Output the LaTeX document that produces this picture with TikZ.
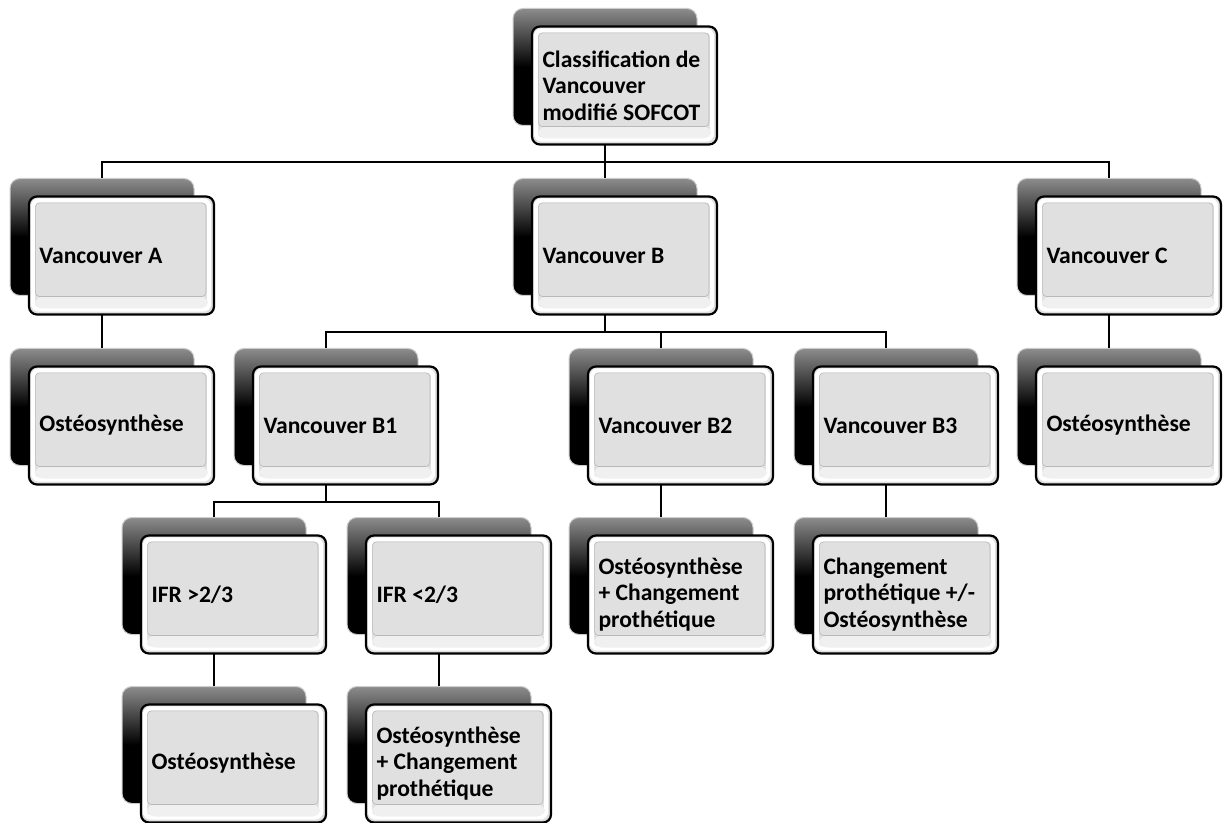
\documentclass[tikz,border=0pt]{standalone}
\usepackage{fontspec}
\setmainfont{Carlito}
\usetikzlibrary{calc,positioning}

\tikzset{
	backbox/.style={rounded corners=5pt, minimum width=92pt, minimum height=58.5pt, inner sep=0pt,
		top color=black!45, bottom color=black, middle color=black, draw=black!20, line width=0.5pt},
	frontbox/.style={rounded corners=4pt, minimum width=92.5pt, minimum height=59pt, inner ysep=0pt, inner xsep=5.25pt,
		text width=82pt, align=flush left, draw=black, line width=1.1pt, fill=black!12,
		font=\fontsize{11.8}{13.3}\selectfont\bfseries,
		path picture={
			\draw[white, line width=2.2pt, rounded corners=3pt]
				([xshift=2pt,yshift=-2pt]path picture bounding box.north west) rectangle
				([xshift=-2.5pt,yshift=2.5pt]path picture bounding box.south east);
			\fill[black!6]
				([xshift=3pt,yshift=9pt]path picture bounding box.south west) rectangle
				([xshift=-3pt,yshift=3pt]path picture bounding box.south east);
			\draw[black!28, line width=0.3pt, rounded corners=2pt]
				([xshift=3.2pt,yshift=-3.2pt]path picture bounding box.north west) rectangle
				([xshift=-4pt,yshift=9pt]path picture bounding box.south east);
		}},
	link/.style={draw=black, line width=0.9pt},
}

\begin{document}
\begin{tikzpicture}[x=0.5pt, y=-0.5pt]
	\fill[white] (0,0) rectangle (1225,823);
	\useasboundingbox (0,0) rectangle (1225,823);
	% dark boxes behind
	\foreach \n/\x/\y in {cls/605/67, va/102/237, vb/605/237, vc/1109/237,
		osa/102/407, vb1/326/407, vb2/661/407, vb3/886/407, osc/1109/407,
		ifr1/214/576, ifr2/439/576, osb2/661/576, osb3/886/576,
		osi1/214/745, osi2/439/745}
		\node[backbox] (b-\n) at (\x,\y) {};

	% connectors
	\draw[link] (b-cls.south) -- ++(0,36) -| (b-va.north);
	\draw[link] (b-cls.south) -- ++(0,36) -| (b-vc.north);
	\draw[link] (b-cls.south) -- (b-vb.north);
	\draw[link] (b-va.south) -- (b-osa.north);
	\draw[link] (b-vc.south) -- (b-osc.north);
	\draw[link] (b-vb.south) -- ++(0,36) -| (b-vb1.north);
	\draw[link] (b-vb.south) -- ++(0,36) -| (b-vb2.north);
	\draw[link] (b-vb.south) -- ++(0,36) -| (b-vb3.north);
	\draw[link] (b-vb1.south) -- ++(0,36) -| (b-ifr1.north);
	\draw[link] (b-vb1.south) -- ++(0,36) -| (b-ifr2.north);
	\draw[link] (b-vb2.south) -- (b-osb2.north);
	\draw[link] (b-vb3.south) -- (b-osb3.north);
	\draw[link] (b-ifr1.south) -- (b-osi1.north);
	\draw[link] (b-ifr2.south) -- (b-osi2.north);

	% light boxes with the texts
	\node[frontbox] (cls) at ($(b-cls)+(19.5,18.5)$) {Classification de\\Vancouver\\modifié SOFCOT};
	\node[frontbox] (va) at ($(b-va)+(19.5,18.5)$) {Vancouver A};
	\node[frontbox] (vb) at ($(b-vb)+(19.5,18.5)$) {Vancouver B};
	\node[frontbox] (vc) at ($(b-vc)+(19.5,18.5)$) {Vancouver C};
	\node[frontbox] (osa) at ($(b-osa)+(19.5,18.5)$) {Ostéosynthèse};
	\node[frontbox] (vb1) at ($(b-vb1)+(19.5,18.5)$) {Vancouver B1};
	\node[frontbox] (vb2) at ($(b-vb2)+(19.5,18.5)$) {Vancouver B2};
	\node[frontbox] (vb3) at ($(b-vb3)+(19.5,18.5)$) {Vancouver B3};
	\node[frontbox] (osc) at ($(b-osc)+(19.5,18.5)$) {Ostéosynthèse};
	\node[frontbox] (ifr1) at ($(b-ifr1)+(19.5,18.5)$) {IFR >2/3};
	\node[frontbox] (ifr2) at ($(b-ifr2)+(19.5,18.5)$) {IFR <2/3};
	\node[frontbox] (osb2) at ($(b-osb2)+(19.5,18.5)$) {Ostéosynthèse\\+ Changement\\prothétique};
	\node[frontbox] (osb3) at ($(b-osb3)+(19.5,18.5)$) {Changement\\prothétique +/-\\Ostéosynthèse};
	\node[frontbox] (osi1) at ($(b-osi1)+(19.5,18.5)$) {Ostéosynthèse};
	\node[frontbox] (osi2) at ($(b-osi2)+(19.5,18.5)$) {Ostéosynthèse\\+ Changement\\prothétique};
\end{tikzpicture}
\end{document}
